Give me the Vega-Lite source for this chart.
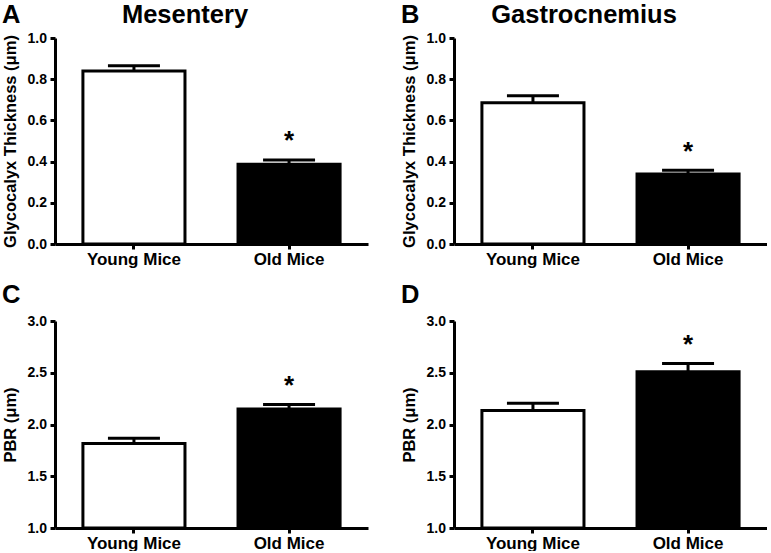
{
  "$schema": "https://vega.github.io/schema/vega-lite/v6.json",
  "padding": {"left": 2, "top": 2, "right": 0, "bottom": 0},
  "background": "white",
  "datasets": {
    "bars": [
      {"panel": "A", "group": "Young Mice", "mean": 0.84, "err": 0.865, "star": null, "label": ""},
      {"panel": "A", "group": "Old Mice", "mean": 0.387, "err": 0.408, "star": 0.46, "label": "*"},
      {"panel": "B", "group": "Young Mice", "mean": 0.686, "err": 0.72, "star": null, "label": ""},
      {"panel": "B", "group": "Old Mice", "mean": 0.34, "err": 0.358, "star": 0.41, "label": "*"},
      {"panel": "C", "group": "Young Mice", "mean": 1.817, "err": 1.868, "star": null, "label": ""},
      {"panel": "C", "group": "Old Mice", "mean": 2.15, "err": 2.193, "star": 2.29, "label": "*"},
      {"panel": "D", "group": "Young Mice", "mean": 2.136, "err": 2.206, "star": null, "label": ""},
      {"panel": "D", "group": "Old Mice", "mean": 2.51, "err": 2.59, "star": 2.69, "label": "*"}
    ]
  },
  "data": {"name": "bars"},
  "spacing": 15,
  "vconcat": [
    {
      "spacing": 33,
      "hconcat": [
        {
          "title": {"text": "A", "anchor": "start", "fontSize": 25.5, "offset": -25.5},
          "vconcat": [
            {
              "title": {"text": "Mesentery", "fontSize": 25.5, "offset": 3, "frame": "bounds"},
              "width": 313, "height": 206,
              "transform": [{"filter": "datum.panel === 'A'"}],
              "encoding": {"x": {"field": "group", "type": "nominal", "sort": ["Young Mice", "Old Mice"], "scale": {"paddingInner": 0.342, "paddingOuter": 0.18}, "axis": {"title": null}}},
              "layer": [
                {"mark": {"type": "bar", "stroke": "black", "strokeWidth": 3},
                 "encoding": {"y": {"field": "mean", "type": "quantitative", "scale": {"domain": [0, 1], "nice": false, "zero": false}, "axis": {"title": "Glycocalyx Thickness (μm)", "values": [0, 0.2, 0.4, 0.6, 0.8, 1], "format": ".1f"}}, "y2": {"datum": 0},
                  "fill": {"field": "group", "type": "nominal", "scale": {"domain": ["Young Mice", "Old Mice"], "range": ["white", "black"]}, "legend": null}}},
                {"mark": {"type": "rule", "strokeWidth": 3, "color": "black"}, "encoding": {"y": {"field": "mean", "type": "quantitative"}, "y2": {"field": "err"}}},
                {"mark": {"type": "tick", "thickness": 3, "size": 52, "color": "black", "opacity": 1}, "encoding": {"y": {"field": "err", "type": "quantitative"}}},
                {"transform": [{"filter": "datum.label != ''"}], "mark": {"type": "text", "fontSize": 26, "fontWeight": "bold", "baseline": "alphabetic", "color": "black"}, "encoding": {"y": {"field": "star", "type": "quantitative"}, "text": {"field": "label"}}}
              ]
            }
          ]
        },
        {
          "title": {"text": "B", "anchor": "start", "fontSize": 25.5, "offset": -25.5},
          "vconcat": [
            {
              "title": {"text": "Gastrocnemius", "fontSize": 25.5, "offset": 3, "frame": "bounds"},
              "width": 313, "height": 206,
              "transform": [{"filter": "datum.panel === 'B'"}],
              "encoding": {"x": {"field": "group", "type": "nominal", "sort": ["Young Mice", "Old Mice"], "scale": {"paddingInner": 0.342, "paddingOuter": 0.18}, "axis": {"title": null}}},
              "layer": [
                {"mark": {"type": "bar", "stroke": "black", "strokeWidth": 3},
                 "encoding": {"y": {"field": "mean", "type": "quantitative", "scale": {"domain": [0, 1], "nice": false, "zero": false}, "axis": {"title": "Glycocalyx Thickness (μm)", "values": [0, 0.2, 0.4, 0.6, 0.8, 1], "format": ".1f"}}, "y2": {"datum": 0},
                  "fill": {"field": "group", "type": "nominal", "scale": {"domain": ["Young Mice", "Old Mice"], "range": ["white", "black"]}, "legend": null}}},
                {"mark": {"type": "rule", "strokeWidth": 3, "color": "black"}, "encoding": {"y": {"field": "mean", "type": "quantitative"}, "y2": {"field": "err"}}},
                {"mark": {"type": "tick", "thickness": 3, "size": 52, "color": "black", "opacity": 1}, "encoding": {"y": {"field": "err", "type": "quantitative"}}},
                {"transform": [{"filter": "datum.label != ''"}], "mark": {"type": "text", "fontSize": 26, "fontWeight": "bold", "baseline": "alphabetic", "color": "black"}, "encoding": {"y": {"field": "star", "type": "quantitative"}, "text": {"field": "label"}}}
              ]
            }
          ]
        }
      ]
    },
    {
      "spacing": 33,
      "hconcat": [
        {
          "title": {"text": "C", "anchor": "start", "fontSize": 25.5, "offset": 6},
          "width": 313, "height": 207,
          "transform": [{"filter": "datum.panel === 'C'"}],
          "encoding": {"x": {"field": "group", "type": "nominal", "sort": ["Young Mice", "Old Mice"], "scale": {"paddingInner": 0.342, "paddingOuter": 0.18}, "axis": {"title": null}}},
          "layer": [
            {"mark": {"type": "bar", "stroke": "black", "strokeWidth": 3},
             "encoding": {"y": {"field": "mean", "type": "quantitative", "scale": {"domain": [1, 3], "nice": false, "zero": false}, "axis": {"title": "PBR (μm)", "values": [1, 1.5, 2, 2.5, 3], "format": ".1f"}}, "y2": {"datum": 1},
              "fill": {"field": "group", "type": "nominal", "scale": {"domain": ["Young Mice", "Old Mice"], "range": ["white", "black"]}, "legend": null}}},
            {"mark": {"type": "rule", "strokeWidth": 3, "color": "black"}, "encoding": {"y": {"field": "mean", "type": "quantitative"}, "y2": {"field": "err"}}},
            {"mark": {"type": "tick", "thickness": 3, "size": 52, "color": "black", "opacity": 1}, "encoding": {"y": {"field": "err", "type": "quantitative"}}},
            {"transform": [{"filter": "datum.label != ''"}], "mark": {"type": "text", "fontSize": 26, "fontWeight": "bold", "baseline": "alphabetic", "color": "black"}, "encoding": {"y": {"field": "star", "type": "quantitative"}, "text": {"field": "label"}}}
          ]
        },
        {
          "title": {"text": "D", "anchor": "start", "fontSize": 25.5, "offset": 6},
          "width": 313, "height": 207,
          "transform": [{"filter": "datum.panel === 'D'"}],
          "encoding": {"x": {"field": "group", "type": "nominal", "sort": ["Young Mice", "Old Mice"], "scale": {"paddingInner": 0.342, "paddingOuter": 0.18}, "axis": {"title": null}}},
          "layer": [
            {"mark": {"type": "bar", "stroke": "black", "strokeWidth": 3},
             "encoding": {"y": {"field": "mean", "type": "quantitative", "scale": {"domain": [1, 3], "nice": false, "zero": false}, "axis": {"title": "PBR (μm)", "values": [1, 1.5, 2, 2.5, 3], "format": ".1f"}}, "y2": {"datum": 1},
              "fill": {"field": "group", "type": "nominal", "scale": {"domain": ["Young Mice", "Old Mice"], "range": ["white", "black"]}, "legend": null}}},
            {"mark": {"type": "rule", "strokeWidth": 3, "color": "black"}, "encoding": {"y": {"field": "mean", "type": "quantitative"}, "y2": {"field": "err"}}},
            {"mark": {"type": "tick", "thickness": 3, "size": 52, "color": "black", "opacity": 1}, "encoding": {"y": {"field": "err", "type": "quantitative"}}},
            {"transform": [{"filter": "datum.label != ''"}], "mark": {"type": "text", "fontSize": 26, "fontWeight": "bold", "baseline": "alphabetic", "color": "black"}, "encoding": {"y": {"field": "star", "type": "quantitative"}, "text": {"field": "label"}}}
          ]
        }
      ]
    }
  ],
  "config": {
    "font": "Liberation Sans",
    "view": {"stroke": null},
    "title": {"fontWeight": "bold", "color": "black", "font": "Liberation Sans"},
    "axis": {"grid": false, "domainColor": "black", "domainWidth": 3, "tickColor": "black", "tickWidth": 3, "tickSize": 5, "labelFont": "Liberation Sans", "labelFontWeight": "bold", "labelColor": "black", "titleFont": "Liberation Sans", "titleFontWeight": "bold", "titleColor": "black"},
    "axisY": {"labelFontSize": 14, "titleFontSize": 16.5, "labelPadding": 3.5, "titlePadding": 9},
    "axisX": {"labelFontSize": 17, "labelAngle": 0, "labelPadding": 2}
  }
}
